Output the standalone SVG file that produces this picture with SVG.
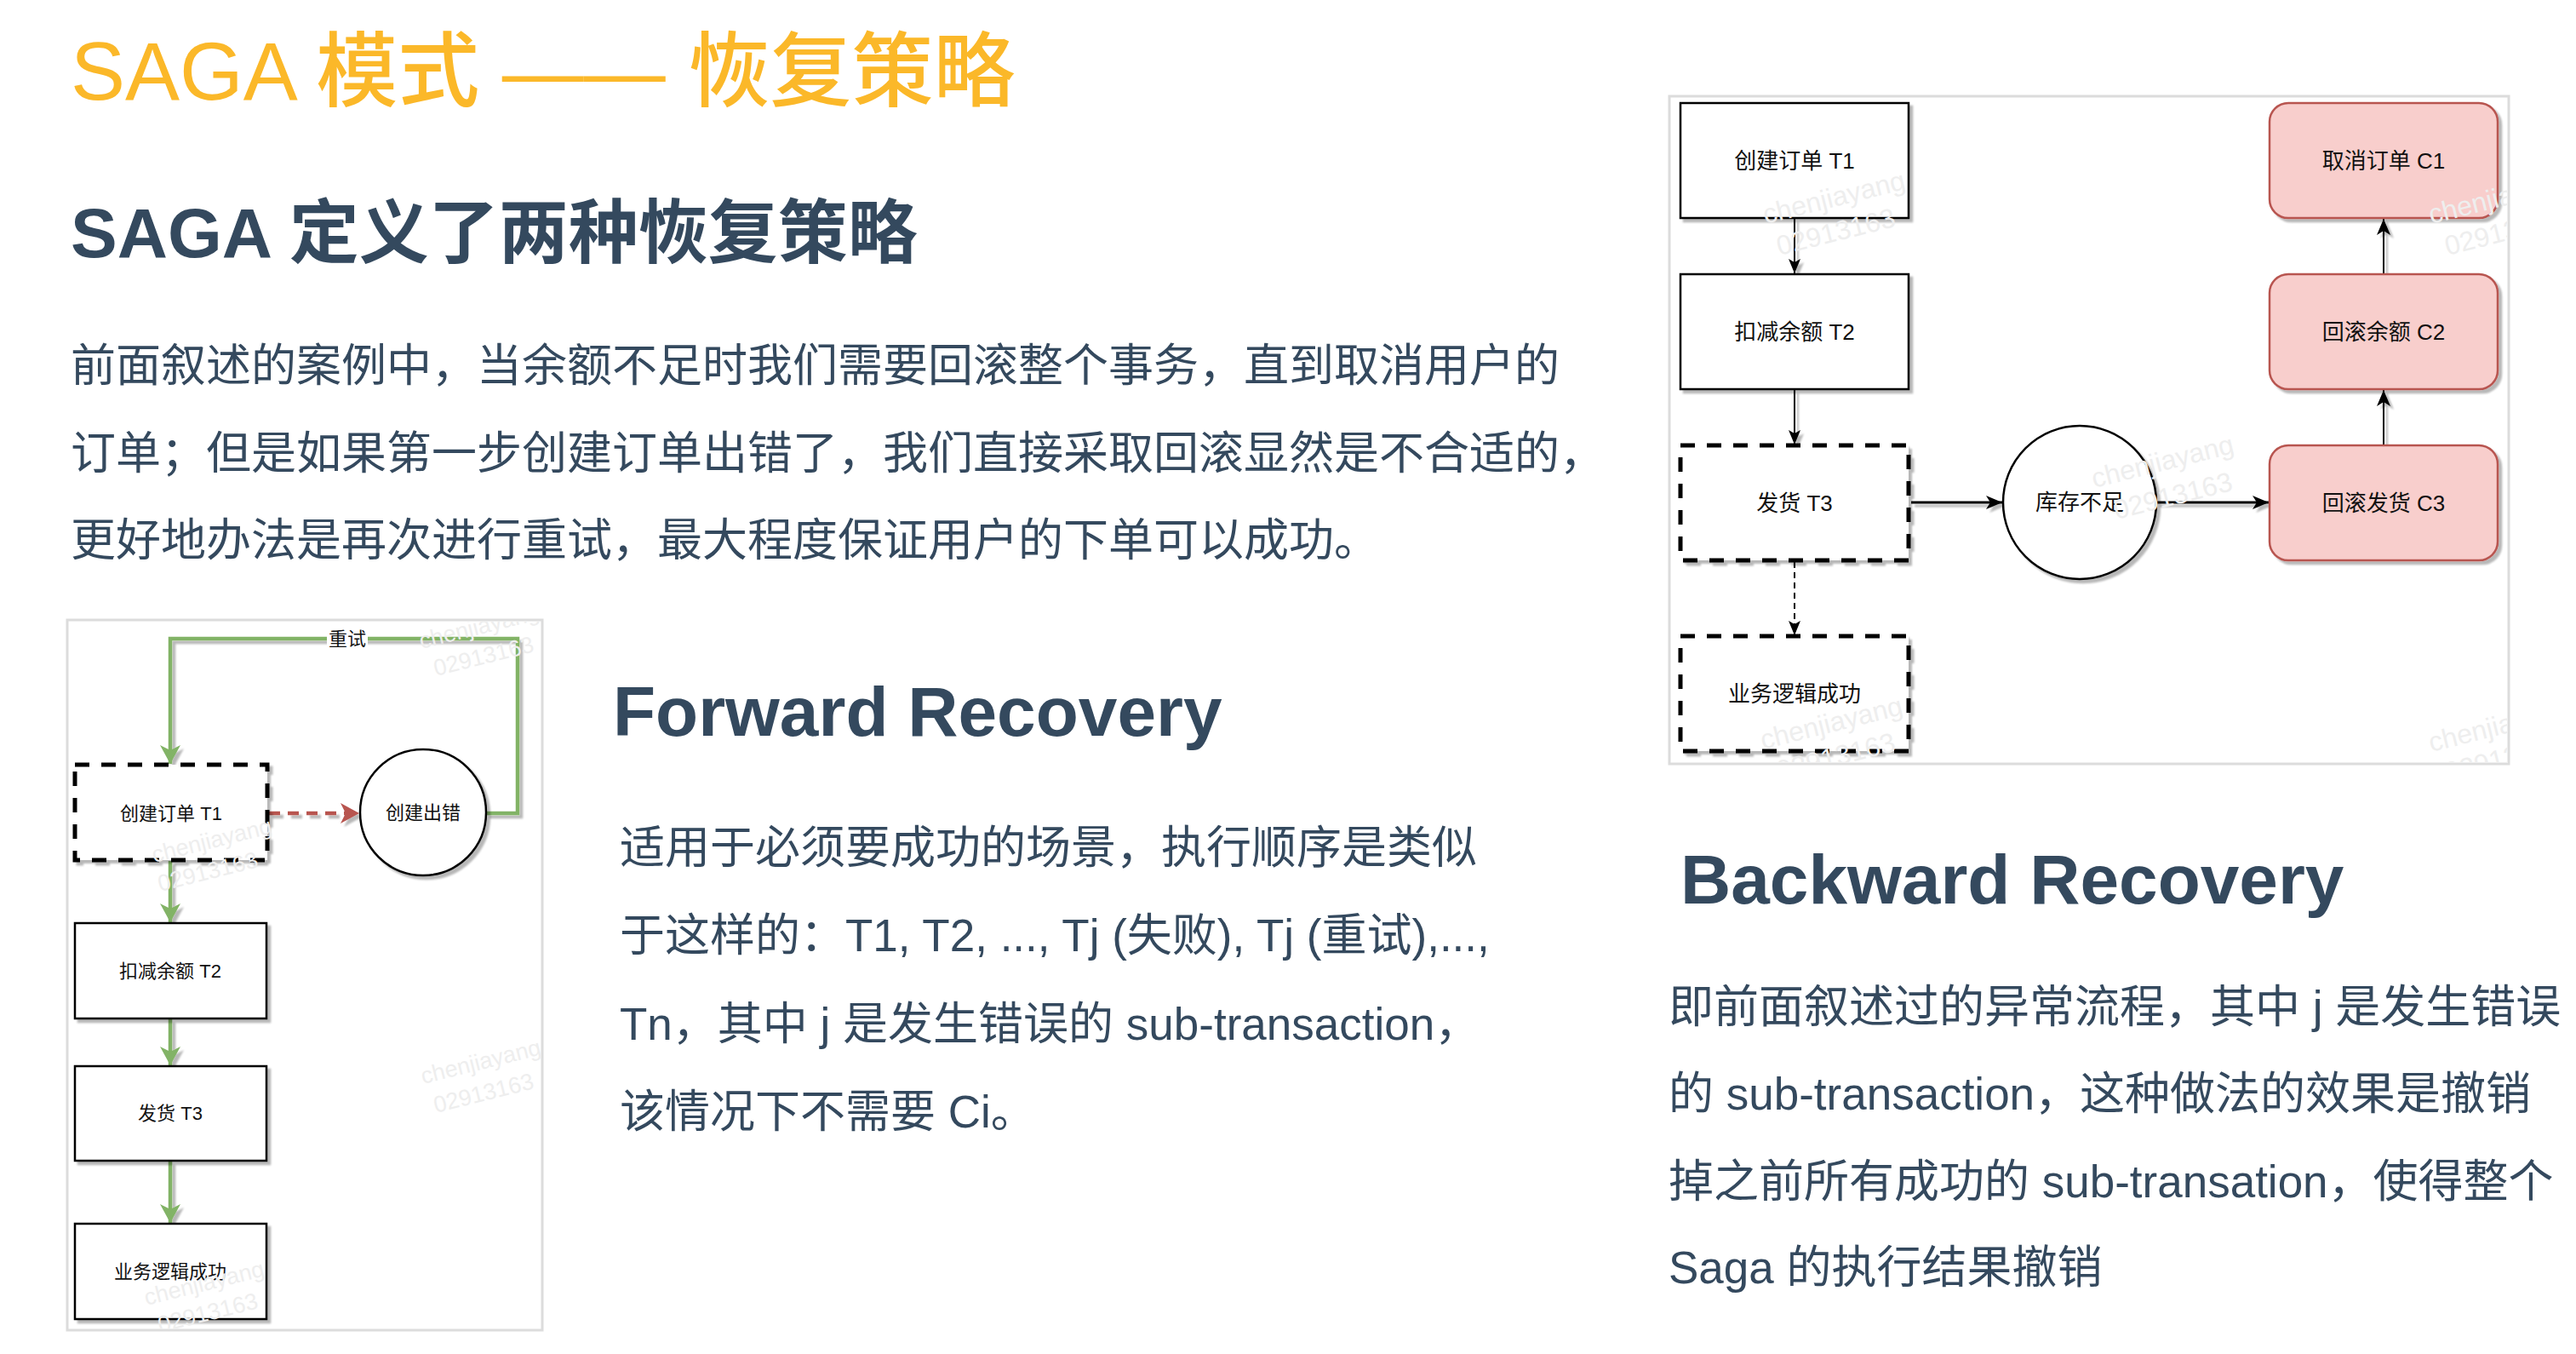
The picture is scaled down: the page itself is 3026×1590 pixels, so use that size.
<svg xmlns="http://www.w3.org/2000/svg" width="3026" height="1590" viewBox="0 0 3026 1590">
<style>
.t{font-family:"Liberation Sans","Noto Sans CJK SC",sans-serif}
.title{font-size:96px;fill:#fbb829;font-weight:500}
.h{font-size:82px;font-weight:bold;fill:#34495e}
.p{font-size:53px;fill:#34495e}
.nt{font-size:22px;fill:#111;text-anchor:middle}
.nt2{font-size:26px;fill:#111;text-anchor:middle}
.frame{fill:#fff;stroke:#dcdcdc;stroke-width:3}
.box{fill:#fff;stroke:#000;stroke-width:2.5}
.dbox{fill:#fff;stroke:#000;stroke-width:5;stroke-dasharray:17 14}
.cbox{fill:#f8cecc;stroke:#b85450;stroke-width:2.5}
.circ{fill:#fff;stroke:#000;stroke-width:2.5}
.g{fill:none;stroke:#82b366;stroke-width:4.5}
.r{fill:none;stroke:#b85450;stroke-width:4.5;stroke-dasharray:13 9}
.k{fill:none;stroke:#000;stroke-width:2}
.k3{fill:none;stroke:#000;stroke-width:3}
.kd{fill:none;stroke:#000;stroke-width:2;stroke-dasharray:7 5}
.wm{font-family:"Liberation Sans",sans-serif;fill:#eeeeee}
</style>
<defs>
<filter id="sh" filterUnits="userSpaceOnUse" x="0" y="0" width="3026" height="1590">
<feGaussianBlur in="SourceAlpha" stdDeviation="1"/>
<feOffset dx="4" dy="4" result="o"/>
<feComponentTransfer><feFuncA type="linear" slope="0.28"/></feComponentTransfer>
<feMerge><feMergeNode/><feMergeNode in="SourceGraphic"/></feMerge>
</filter>
<marker id="ag" markerUnits="userSpaceOnUse" markerWidth="24" markerHeight="26" refX="22" refY="13" orient="auto"><path d="M0,1 L22,13 L0,25 L6,13 Z" fill="#82b366"/></marker>
<marker id="ar" markerUnits="userSpaceOnUse" markerWidth="24" markerHeight="26" refX="22" refY="13" orient="auto"><path d="M0,1 L22,13 L0,25 L6,13 Z" fill="#b85450"/></marker>
<marker id="ab" markerUnits="userSpaceOnUse" markerWidth="20" markerHeight="18" refX="19" refY="9" orient="auto"><path d="M0,1 L19,9 L0,17 L5,9 Z" fill="#000"/></marker>
<marker id="as" markerUnits="userSpaceOnUse" markerWidth="18" markerHeight="16" refX="17" refY="8" orient="auto"><path d="M0,1 L17,8 L0,15 L4,8 Z" fill="#000"/></marker>
<clipPath id="clipL"><rect x="80" y="729" width="556" height="832"/></clipPath>
<clipPath id="clipR"><rect x="1962" y="114" width="984" height="782"/></clipPath>
</defs>
<rect width="3026" height="1590" fill="#fff"/>

<g id="text">
<text class="t title" x="83" y="117">SAGA 模式 —— 恢复策略</text>
<text class="t h" x="83" y="302">SAGA 定义了两种恢复策略</text>
<text class="t p" x="83" y="448">前面叙述的案例中，当余额不足时我们需要回滚整个事务，直到取消用户的</text>
<text class="t p" x="83" y="551">订单；但是如果第一步创建订单出错了，我们直接采取回滚显然是不合适的，</text>
<text class="t p" x="83" y="653">更好地办法是再次进行重试，最大程度保证用户的下单可以成功。</text>
<text class="t h" x="720" y="864">Forward Recovery</text>
<text class="t p" x="728" y="1014">适用于必须要成功的场景，执行顺序是类似</text>
<text class="t p" x="728" y="1117">于这样的：T1, T2, ..., Tj (失败), Tj (重试),...,</text>
<text class="t p" x="728" y="1221">Tn，其中 j 是发生错误的 sub-transaction，</text>
<text class="t p" x="728" y="1324">该情况下不需要 Ci。</text>
<text class="t h" x="1974" y="1061">Backward Recovery</text>
<text class="t p" x="1960" y="1201">即前面叙述过的异常流程，其中 j 是发生错误</text>
<text class="t p" x="1960" y="1303">的 sub-transaction，这种做法的效果是撤销</text>
<text class="t p" x="1960" y="1406">掉之前所有成功的 sub-transation，使得整个</text>
<text class="t p" x="1960" y="1507">Saga 的执行结果撤销</text>
</g>

<g id="frames">
<rect class="frame" x="79" y="728" width="558" height="834"/>
<rect class="frame" x="1961" y="113" width="986" height="784"/>
</g>

<g id="connectors">
<path class="g" filter="url(#sh)" d="M571,955 H608 V750 H200 V897" marker-end="url(#ag)"/>
<path class="g" filter="url(#sh)" d="M200,1011 V1083" marker-end="url(#ag)"/>
<path class="g" filter="url(#sh)" d="M200,1197 V1251" marker-end="url(#ag)"/>
<path class="g" filter="url(#sh)" d="M200,1364 V1436" marker-end="url(#ag)"/>
<path class="r" filter="url(#sh)" d="M316,955 H422" marker-end="url(#ar)"/>
<rect x="384" y="738" width="48" height="25" fill="#fff"/>
<text class="t nt" x="408" y="758">重试</text>
<path class="k" filter="url(#sh)" d="M2108,257 V321" marker-end="url(#as)"/>
<path class="k" filter="url(#sh)" d="M2108,458 V522" marker-end="url(#as)"/>
<path class="kd" d="M2108,660 V746" marker-end="url(#as)"/>
<path class="k3" filter="url(#sh)" d="M2245,590 H2352" marker-end="url(#ab)"/>
<path class="k3" filter="url(#sh)" d="M2533,590 H2665" marker-end="url(#ab)"/>
<path class="k" filter="url(#sh)" d="M2800,522 V458" marker-end="url(#ab)"/>
<path class="k" filter="url(#sh)" d="M2800,321 V257" marker-end="url(#ab)"/>
</g>

<g id="fwd-t1"><rect class="dbox" filter="url(#sh)" x="88" y="898" width="226" height="112"/><text class="t nt" x="201" y="963">创建订单 T1</text></g>
<g id="fwd-err"><circle class="circ" filter="url(#sh)" cx="497" cy="954" r="74"/><text class="t nt" x="497" y="962">创建出错</text></g>
<g id="fwd-t2"><rect class="box" filter="url(#sh)" x="88" y="1084" width="225" height="112"/><text class="t nt" x="200" y="1148">扣减余额 T2</text></g>
<g id="fwd-t3"><rect class="box" filter="url(#sh)" x="88" y="1252" width="225" height="111"/><text class="t nt" x="200" y="1315">发货 T3</text></g>
<g id="fwd-ok"><rect class="box" filter="url(#sh)" x="88" y="1437" width="225" height="112"/><text class="t nt" x="200" y="1501">业务逻辑成功</text></g>

<g id="bwd-t1"><rect class="box" filter="url(#sh)" x="1974" y="121" width="268" height="135"/><text class="t nt2" x="2108" y="198">创建订单 T1</text></g>
<g id="bwd-t2"><rect class="box" filter="url(#sh)" x="1974" y="322" width="268" height="135"/><text class="t nt2" x="2108" y="399">扣减余额 T2</text></g>
<g id="bwd-t3"><rect class="dbox" filter="url(#sh)" x="1974" y="523" width="268" height="135"/><text class="t nt2" x="2108" y="600">发货 T3</text></g>
<g id="bwd-ok"><rect class="dbox" filter="url(#sh)" x="1974" y="747" width="268" height="135"/><text class="t nt2" x="2108" y="824">业务逻辑成功</text></g>
<g id="bwd-err"><circle class="circ" filter="url(#sh)" cx="2443" cy="590" r="90"/><text class="t nt2" x="2443" y="599">库存不足</text></g>
<g id="bwd-c3"><rect class="cbox" filter="url(#sh)" x="2666" y="523" width="268" height="135" rx="22"/><text class="t nt2" x="2800" y="600">回滚发货 C3</text></g>
<g id="bwd-c2"><rect class="cbox" filter="url(#sh)" x="2666" y="322" width="268" height="135" rx="22"/><text class="t nt2" x="2800" y="399">回滚余额 C2</text></g>
<g id="bwd-c1"><rect class="cbox" filter="url(#sh)" x="2666" y="121" width="268" height="135" rx="22"/><text class="t nt2" x="2800" y="198">取消订单 C1</text></g>

<g id="watermarks">
<g clip-path="url(#clipL)" font-size="27">
<text class="wm" transform="translate(495,762) rotate(-14)">chenjiayang</text>
<text class="wm" transform="translate(512,794) rotate(-14)">02913163</text>
<text class="wm" transform="translate(181,1013) rotate(-14)">chenjiayang</text>
<text class="wm" transform="translate(188,1047) rotate(-14)">02913163</text>
<text class="wm" transform="translate(497,1273) rotate(-14)">chenjiayang</text>
<text class="wm" transform="translate(512,1307) rotate(-14)">02913163</text>
<text class="wm" transform="translate(172,1533) rotate(-14)">chenjiayang</text>
<text class="wm" transform="translate(188,1565) rotate(-14)">02913163</text>
</g>
<g clip-path="url(#clipR)" font-size="32">
<text class="wm" transform="translate(2074,263) rotate(-14)">chenjiayang</text>
<text class="wm" transform="translate(2090,300) rotate(-14)">02913163</text>
<text class="wm" transform="translate(2856,263) rotate(-14)">chenjiayang</text>
<text class="wm" transform="translate(2875,300) rotate(-14)">02913163</text>
<text class="wm" transform="translate(2460,573) rotate(-14)">chenjiayang</text>
<text class="wm" transform="translate(2486,610) rotate(-14)">02913163</text>
<text class="wm" transform="translate(2071,880) rotate(-14)">chenjiayang</text>
<text class="wm" transform="translate(2090,916) rotate(-14)">02913163</text>
<text class="wm" transform="translate(2856,883) rotate(-14)">chenjiayang</text>
<text class="wm" transform="translate(2875,918) rotate(-14)">02913163</text>
</g>
</g>
</svg>
